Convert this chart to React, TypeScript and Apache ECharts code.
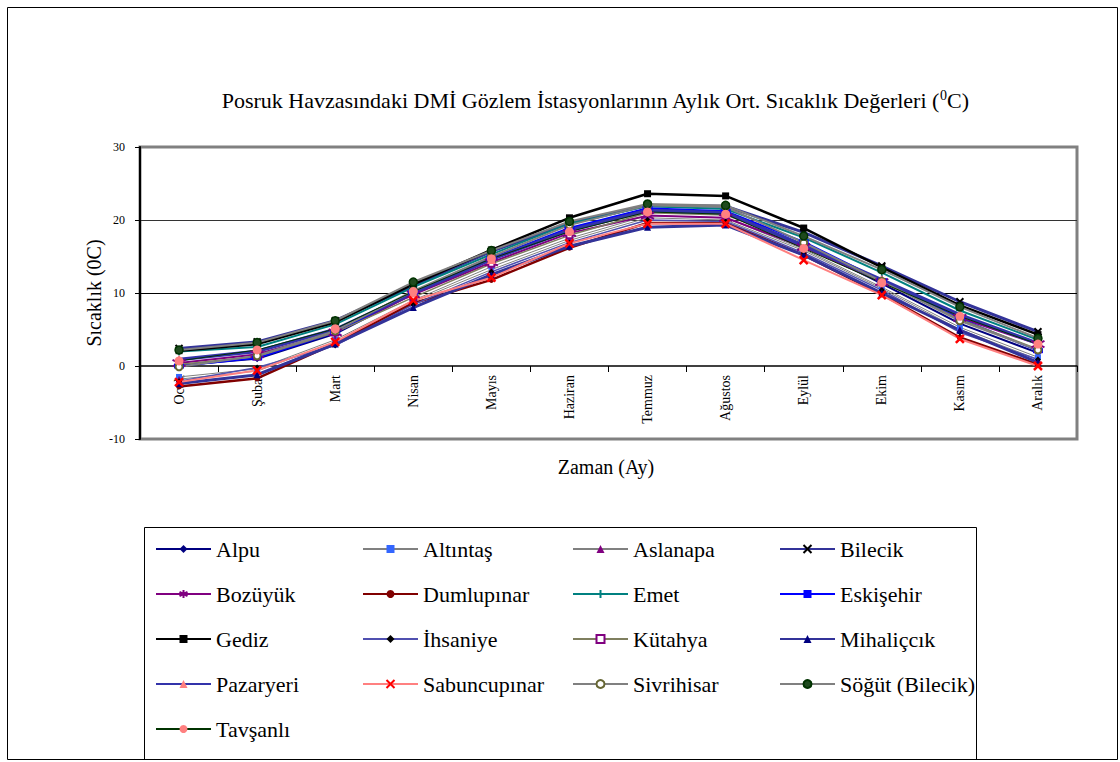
import React, { useEffect, useRef } from "react";
import * as echarts from "echarts";

const months = ["Ocak", "Şubat", "Mart", "Nisan", "Mayıs", "Haziran", "Temmuz", "Ağustos", "Eylül", "Ekim", "Kasım", "Aralık"];
const yTicks = [-10, 0, 10, 20, 30];

const alpu = [0.1, 1.0, 4.4, 9.9, 14.6, 18.7, 21.5, 21.0, 16.6, 11.3, 5.8, 1.8];
const altintas = [-1.5, -0.4, 3.6, 9.0, 13.6, 17.5, 20.6, 20.3, 16.0, 10.8, 5.3, 1.2];
const aslanapa = [-1.8, -0.7, 3.3, 8.8, 13.2, 17.2, 20.3, 20.0, 15.8, 10.6, 5.0, 0.9];
const bilecik = [2.4, 3.3, 6.2, 11.0, 15.7, 19.6, 22.0, 21.9, 18.3, 13.7, 8.8, 4.7];
const bozuyuk = [0.4, 1.6, 4.6, 9.8, 14.2, 18.2, 20.6, 20.3, 16.3, 11.5, 6.6, 3.0];
const dumlupinar = [-2.8, -1.7, 3.1, 8.6, 11.8, 16.2, 19.6, 19.6, 15.2, 9.8, 3.9, 0.2];
const emet = [2.0, 2.6, 5.7, 10.8, 15.3, 19.5, 21.9, 21.5, 17.6, 12.8, 7.6, 3.6];
const eskisehir = [0.0, 1.1, 4.6, 10.1, 14.8, 18.9, 21.6, 21.2, 17.0, 11.7, 6.5, 2.1];
const gediz = [2.1, 3.0, 6.0, 11.2, 15.9, 20.3, 23.6, 23.3, 18.9, 13.5, 8.3, 4.3];
const ihsaniye = [-2.1, -0.2, 2.8, 8.4, 12.9, 16.9, 20.0, 19.8, 15.5, 10.4, 4.6, 0.9];
const kutahya = [0.2, 1.3, 4.6, 9.4, 14.0, 17.9, 21.0, 20.7, 16.6, 11.5, 6.4, 2.3];
const mihaliccik = [-2.4, -1.2, 3.0, 8.0, 12.5, 16.4, 19.0, 19.3, 15.2, 10.0, 4.9, 0.5];
const pazaryeri = [0.9, 2.0, 5.0, 10.0, 14.6, 18.6, 21.3, 21.0, 16.5, 11.8, 7.0, 3.1];
const sabuncupinar = [-2.2, -0.6, 3.3, 9.0, 12.1, 16.8, 19.5, 19.5, 14.5, 9.7, 3.7, 0.0];
const sivrihisar = [-0.1, 1.4, 4.8, 10.3, 15.0, 19.3, 22.0, 21.8, 16.9, 11.6, 6.2, 2.2];
const sogut = [2.2, 3.2, 6.2, 11.5, 15.8, 19.8, 22.2, 22.0, 17.8, 13.2, 8.1, 3.8];
const tavsanli = [0.7, 2.2, 5.1, 10.2, 14.7, 18.4, 21.1, 20.8, 16.1, 11.4, 6.8, 3.0];

const FONT = "'Liberation Serif', 'Times New Roman', serif";
const X_SYM = "path://M0 0L10 10M10 0L0 10";
const STAR_SYM = "path://M5 0L5 10M0.7 2.5L9.3 7.5M0.7 7.5L9.3 2.5";
const PLUS_SYM = "path://M5 0L5 10M0 5L10 5";

type Def = {
  name: string;
  data: number[];
  line: string;
  lw: number;
  symbol: string;
  size: number | number[];
  fill: string;
  border?: string;
  bw?: number;
};

const defs: Def[] = [
  { name: "Alpu", data: alpu, line: "#000080", lw: 2, symbol: "diamond", size: 7, fill: "#000080" },
  { name: "Altıntaş", data: altintas, line: "#808080", lw: 1, symbol: "rect", size: 6, fill: "#3366FF" },
  { name: "Aslanapa", data: aslanapa, line: "#808080", lw: 1, symbol: "triangle", size: 7, fill: "#800080" },
  { name: "Bilecik", data: bilecik, line: "#333399", lw: 3, symbol: X_SYM, size: 7, fill: "#000000", border: "#000000", bw: 2 },
  { name: "Bozüyük", data: bozuyuk, line: "#800080", lw: 2, symbol: STAR_SYM, size: 13, fill: "#800080", border: "#800080", bw: 2 },
  { name: "Dumlupınar", data: dumlupinar, line: "#800000", lw: 2.5, symbol: "circle", size: 6, fill: "#800000" },
  { name: "Emet", data: emet, line: "#008080", lw: 2, symbol: PLUS_SYM, size: 8, fill: "#008080", border: "#008080", bw: 1.5 },
  { name: "Eskişehir", data: eskisehir, line: "#0000FF", lw: 2, symbol: "rect", size: [10, 5], fill: "#0000FF" },
  { name: "Gediz", data: gediz, line: "#000000", lw: 2.5, symbol: "rect", size: 7, fill: "#000000" },
  { name: "İhsaniye", data: ihsaniye, line: "#5050B0", lw: 1.5, symbol: "diamond", size: 6, fill: "#000000" },
  { name: "Kütahya", data: kutahya, line: "#7F7F5F", lw: 1.5, symbol: "emptyRect", size: 6, fill: "#800080", bw: 1.5 },
  { name: "Mihaliçcık", data: mihaliccik, line: "#333399", lw: 3, symbol: "triangle", size: 7, fill: "#000080" },
  { name: "Pazaryeri", data: pazaryeri, line: "#3333AA", lw: 3.5, symbol: "triangle", size: 9, fill: "#FF8080" },
  { name: "Sabuncupınar", data: sabuncupinar, line: "#FF8080", lw: 2, symbol: X_SYM, size: 8, fill: "#FF0000", border: "#FF0000", bw: 2.5 },
  { name: "Sivrihisar", data: sivrihisar, line: "#808080", lw: 2, symbol: "emptyCircle", size: 7, fill: "#666633", bw: 2 },
  { name: "Söğüt (Bilecik)", data: sogut, line: "#808080", lw: 2, symbol: "circle", size: 8, fill: "#1E4A1E", border: "#003300", bw: 1.5 },
  { name: "Tavşanlı", data: tavsanli, line: "#003300", lw: 1, symbol: "circle", size: 9, fill: "#FF8080" },
];

const legendCols = [
  ["Alpu", "Bozüyük", "Gediz", "Pazaryeri", "Tavşanlı"],
  ["Altıntaş", "Dumlupınar", "İhsaniye", "Sabuncupınar"],
  ["Aslanapa", "Emet", "Kütahya", "Sivrihisar"],
  ["Bilecik", "Eskişehir", "Mihaliçcık", "Söğüt (Bilecik)"],
];
const legendX = [155, 362, 572, 779];

export default function App() {
  const ref = useRef<HTMLDivElement>(null);
  useEffect(() => {
    if (!ref.current) return;
    const chart = echarts.init(ref.current, null, { renderer: "svg" });
    const series = defs.map((d) => ({
      name: d.name,
      type: "line",
      data: d.data,
      symbol: d.symbol,
      symbolSize: d.size,
      showAllSymbol: true,
      lineStyle: { color: d.line, width: d.lw },
      itemStyle: {
        color: d.fill,
        borderColor: d.border || d.fill,
        borderWidth: d.bw || 0,
      },
      emphasis: { disabled: true },
    }));
    chart.setOption({
      animation: false,
      backgroundColor: "#FFFFFF",
      grid: {
        left: 140,
        top: 147,
        right: 43,
        bottom: 323,
        show: true,
        borderColor: "#808080",
        borderWidth: 3,
        backgroundColor: "transparent",
      },
      xAxis: {
        type: "category",
        data: months,
        boundaryGap: true,
        offset: -73,
        axisLine: { onZero: false, lineStyle: { color: "#000", width: 1.5 } },
        axisTick: { show: true, length: 6, lineStyle: { color: "#000" } },
        axisLabel: { rotate: 90, margin: 9, fontFamily: FONT, fontSize: 14, color: "#000", interval: 0 },
        splitLine: { show: false },
      },
      yAxis: {
        type: "value",
        min: yTicks[0],
        max: yTicks[yTicks.length - 1],
        interval: 10,
        axisLine: { show: true, lineStyle: { color: "#000", width: 2 } },
        axisTick: { show: true, length: 5, lineStyle: { color: "#000" } },
        axisLabel: { margin: 15, fontFamily: FONT, fontSize: 12, color: "#000" },
        splitLine: {
          show: true,
          lineStyle: { color: ["transparent", "transparent", "#000", "#333", "transparent"], width: 1 },
        },
      },
      legend: legendCols.map((col, i) => ({
        orient: "vertical",
        left: legendX[i],
        top: 537,
        padding: 0,
        itemWidth: 55,
        itemHeight: 10,
        itemGap: 21,
        selectedMode: false,
        data: col,
        textStyle: { fontFamily: FONT, fontSize: 22, color: "#000", lineHeight: 24 },
      })),
      graphic: [
        {
          type: "rect",
          shape: { x: 7.5, y: 7.5, width: 1110, height: 752 },
          style: { fill: "none", stroke: "#000", lineWidth: 1 },
          silent: true,
          z: -1,
        },
        {
          type: "rect",
          shape: { x: 144.5, y: 527.5, width: 832, height: 232 },
          style: { fill: "none", stroke: "#000", lineWidth: 1 },
          silent: true,
        },
        {
          type: "text",
          x: 595,
          y: 100,
          style: {
            text: "Posruk Havzasındaki DMİ Gözlem İstasyonlarının Aylık Ort. Sıcaklık Değerleri ({sup|0}C)",
            font: "22px " + FONT,
            fill: "#000",
            align: "center",
            verticalAlign: "middle",
            rich: {
              sup: { fontSize: 14, fontFamily: FONT, verticalAlign: "top", lineHeight: 24, fill: "#000" },
            },
          },
        },
        {
          type: "text",
          x: 94,
          y: 293,
          rotation: Math.PI / 2,
          style: {
            text: "Sıcaklık (0C)",
            font: "20px " + FONT,
            fill: "#000",
            align: "center",
            verticalAlign: "middle",
          },
        },
        {
          type: "text",
          x: 606,
          y: 467,
          style: {
            text: "Zaman (Ay)",
            font: "20px " + FONT,
            fill: "#000",
            align: "center",
            verticalAlign: "middle",
          },
        },
      ],
      series,
    });
    return () => chart.dispose();
  }, []);
  return (
    <div
      ref={ref}
      style={{ position: "absolute", left: 0, top: 0, width: 1120, height: 762 }}
    />
  );
}
